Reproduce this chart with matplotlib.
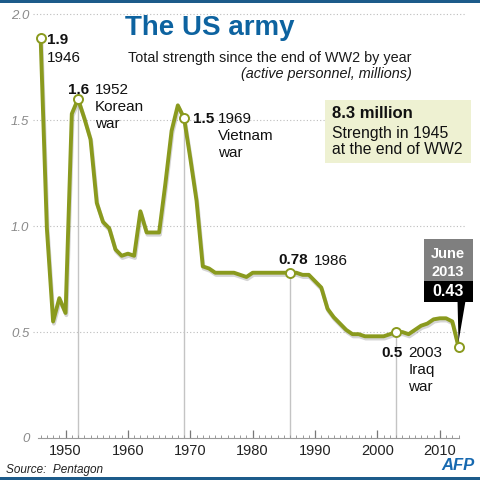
import matplotlib
matplotlib.use("Agg")
import matplotlib.pyplot as plt
import matplotlib.patheffects as pe
from matplotlib.patches import Rectangle, Polygon
from matplotlib.transforms import IdentityTransform

plt.rcParams['font.family'] = ['Liberation Sans', 'DejaVu Sans']

years = list(range(1946, 2014))
strength = [1.89, 0.99, 0.55, 0.66, 0.59, 1.53, 1.60, 1.51, 1.41, 1.11,
            1.02, 0.99, 0.89, 0.86, 0.87, 0.86, 1.07, 0.97, 0.97, 0.97,
            1.20, 1.45, 1.57, 1.51, 1.32, 1.12, 0.81, 0.80, 0.78, 0.78,
            0.78, 0.78, 0.77, 0.76, 0.78, 0.78, 0.78, 0.78, 0.78, 0.78,
            0.78, 0.78, 0.77, 0.77, 0.74, 0.71, 0.61, 0.57, 0.54, 0.51,
            0.49, 0.49, 0.48, 0.48, 0.48, 0.48, 0.49, 0.50, 0.50, 0.49,
            0.51, 0.53, 0.54, 0.56, 0.565, 0.565, 0.55, 0.43]

highlight_years = [1946, 1952, 1969, 1986, 2003, 2013]
highlight_vals = ["1.9", "1.6", "1.5", "0.78", "0.5", "0.43"]
highlight_notes = ["1946", "1952\nKorean\nwar", "1969\nVietnam\nwar", "1986", "2003\nIraq\nwar", "June\n2013"]
drop_line_years = [1952, 1969, 1986, 2003]

yticks = [0, 0.5, 1.0, 1.5, 2.0]
ytick_labels = ["0", "0.5", "1.0", "1.5", "2.0"]
xticks = [1950, 1960, 1970, 1980, 1990, 2000, 2010]

OLIVE = "#8a9a1e"
BLUE = "#0d63a0"
W = H = 480
LINE_STEP = 17  # pixels between text lines

fig = plt.figure(figsize=(4.8, 4.8), dpi=100)
fig.patch.set_facecolor("white")
ax = fig.add_axes([35 / W, 1 - 438 / H, 431 / W, 428 / H])
ax.set_xlim(1945.1, 2014.2)
ax.set_ylim(0, 2.02)
ax.set_facecolor("none")

for s in ["top", "right", "left"]:
    ax.spines[s].set_visible(False)
ax.spines["bottom"].set_color("#9a9a9a")
ax.spines["bottom"].set_linewidth(0.8)
ax.spines["bottom"].set_bounds(1945.6, 2013)

ax.set_xticks(xticks)
ax.set_xticks(years, minor=True)
ax.tick_params(axis="x", which="major", direction="in", length=5.5, width=0.9,
               color="#777777", labelsize=10.5, labelcolor="#222222", pad=4)
ax.tick_params(axis="x", which="minor", direction="in", length=2.5, width=0.7,
               color="#999999")
ax.set_yticks(yticks)
ax.set_yticklabels(ytick_labels, fontstyle="italic")
ax.tick_params(axis="y", length=0, labelsize=9.5, labelcolor="#8a8a8a", pad=4)

for yv in yticks[1:]:
    ax.axhline(yv, xmin=-0.005, color="#bdbdbd", lw=0.8, ls=(0, (1, 2)), zorder=0, clip_on=False)

val_of = dict(zip(years, strength))
for yr in drop_line_years:
    ax.plot([yr, yr], [0, val_of[yr]], color="#c4c4c4", lw=1.0, zorder=1)

ax.plot(years, strength, color=OLIVE, lw=2.8, solid_joinstyle="round", zorder=3,
        path_effects=[pe.SimpleLineShadow(offset=(0.6, -1.6), shadow_color="#888888", alpha=0.35),
                      pe.Normal()])

hv = [val_of[y] for y in highlight_years]
ax.plot(highlight_years, hv, ls="none", marker="o", ms=6.5, mfc="white", mec=OLIVE, mew=1.4, zorder=4)

# annotations: (value offset, note offset) in pixels relative to the point, baseline aligned
val_offsets = [(6, -6), (-10, 5), (9, -5), (-12, 9), (-15, -25)]
note_offsets = [(6, -24), (17, 5), (34, -5), (24, 8), (12, -25)]
for i in range(5):
    yr = highlight_years[i]
    v = val_of[yr]
    ax.annotate(highlight_vals[i], xy=(yr, v), xytext=val_offsets[i], textcoords="offset pixels",
                fontsize=11, fontweight="bold", color="#111111", ha="left", va="baseline", zorder=5)
    nx, ny = note_offsets[i]
    for k, line in enumerate(highlight_notes[i].split("\n")):
        ax.annotate(line, xy=(yr, v), xytext=(nx, ny - k * LINE_STEP), textcoords="offset pixels",
                    fontsize=11, color="#111111", ha="left", va="baseline", zorder=5)

# June 2013 callout
fig.canvas.draw()
px, py = ax.transData.transform((highlight_years[5], val_of[highlight_years[5]]))
idt = IdentityTransform()
fig.patches.append(Rectangle((px - 35, py + 66), 49, 42, transform=idt, facecolor="#7f7f7f",
                             edgecolor="none", zorder=6))
fig.patches.append(Rectangle((px - 35, py + 45), 49, 21, transform=idt, facecolor="black",
                             edgecolor="none", zorder=6))
fig.patches.append(Polygon([(px - 1, py + 46), (px + 7, py + 46), (px, py + 5)], closed=True,
                           transform=idt, facecolor="black", edgecolor="none", zorder=6))
for k, line in enumerate(highlight_notes[5].split("\n")):
    fig.text((px - 10.5) / W, (py + 93 - k * 18) / H, line, color="white", fontsize=10.5,
             fontweight="bold", ha="center", va="center", zorder=7)
fig.text((px - 10.5) / W, (py + 55.5) / H, highlight_vals[5], color="white", fontsize=11.5,
         fontweight="bold", ha="center", va="center", zorder=7)

# titles
fig.text(210 / W, 1 - 35 / H, "The US army", color=BLUE, fontsize=20, fontweight="bold",
         ha="center", va="baseline")
fig.text(412 / W, 1 - 62 / H, "Total strength since the end of WW2 by year", color="#1a1a1a",
         fontsize=10.4, ha="right", va="baseline")
fig.text(412 / W, 1 - 78 / H, "(active personnel, millions)", color="#1a1a1a",
         fontsize=10.4, fontstyle="italic", ha="right", va="baseline")

# info box
fig.patches.append(Rectangle((325 / W, 1 - 163 / H), 146 / W, 63 / H, transform=fig.transFigure,
                             facecolor="#eef1d2", edgecolor="none", zorder=1))
fig.text(332 / W, 1 - 118 / H, "8.3 million", fontsize=12, fontweight="bold", color="#111111",
         ha="left", va="baseline")
fig.text(332 / W, 1 - 138 / H, "Strength in 1945", fontsize=11.3, color="#111111",
         ha="left", va="baseline")
fig.text(332 / W, 1 - 154 / H, "at the end of WW2", fontsize=11.3, color="#111111",
         ha="left", va="baseline")

# frame bars, source, logo
fig.patches.append(Rectangle((0, 1 - 3 / H), 1, 3 / H, transform=fig.transFigure,
                             facecolor="#1d5b8a", edgecolor="none"))
fig.patches.append(Rectangle((0, 0), 1, 3 / H, transform=fig.transFigure,
                             facecolor="#1d5b8a", edgecolor="none"))
fig.text(6 / W, 1 - 473 / H, "Source:  Pentagon", fontsize=8.5, fontstyle="italic", color="#222222",
         ha="left", va="baseline")
fig.text(475 / W, 1 - 470 / H, "AFP", fontsize=12, fontstyle="italic", fontweight="bold", color="#1769b0",
         ha="right", va="baseline")

fig.savefig("out.png", dpi=100)
